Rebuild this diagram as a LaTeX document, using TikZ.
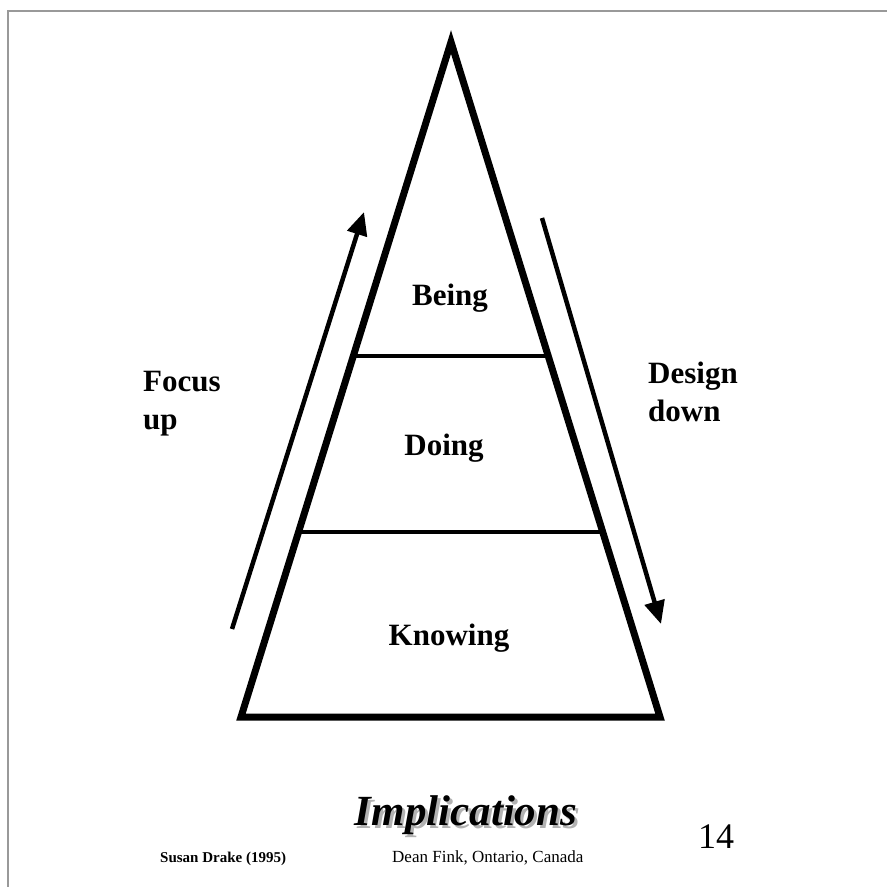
\documentclass[tikz,border=0pt]{standalone}
\usepackage{fontspec}
\setmainfont{Liberation Serif}
\usetikzlibrary{calc,arrows.meta}

\begin{document}
\begin{tikzpicture}[x=1pt,y=-1pt,
  level/.style={font=\bfseries\fontsize{31}{37}\selectfont, anchor=base},
  side/.style={font=\bfseries\fontsize{31}{38}\selectfont, align=left, anchor=north west, inner sep=0pt},
  flow/.style={line width=4.5pt, -{Triangle[length=23pt,width=20pt]}}]
\useasboundingbox (0,0) rectangle (887,887);
\draw [line width=2.5pt, color=black!40] (8,887)--(8,11)--(887,11);
% pyramid
\coordinate (top) at (451,42);
\coordinate (bl) at (241,717);
\coordinate (br) at (660,717);
\draw [line width=7pt, miter limit=20] (top)--(bl)--(br)--cycle;
\foreach \t in {0.465,0.726}
{       \draw [line width=4.5pt] ($(top)!\t!(bl)$)--($(top)!\t!(br)$);
}
\node[level] (being) at (450,305) {Being};
\node[level] (doing) at (444,455) {Doing};
\node[level] (knowing) at (449,645) {Knowing};
% arrows
\coordinate (upstart) at (232,629);
\coordinate (upend) at (364,212);
\coordinate (downstart) at (542,218);
\coordinate (downend) at (661,624);
\draw [flow] (upstart)--(upend);
\draw [flow] (downstart)--(downend);
\node[side] (focus) at (143,371) {Focus\\up};
\node[side] (design) at (648,362) {Design\\down};
% footer
\node[anchor=base, font=\bfseries\itshape\fontsize{43}{43}\selectfont] (title) at (466,825)
  {\rlap{\kern3pt\raisebox{-3pt}{\color{black!30}Implications}}Implications};
\node[anchor=base, font=\fontsize{36}{36}\selectfont] (page) at (716,848) {14};
\node[anchor=base west, inner sep=0pt, font=\bfseries\fontsize{15}{15}\selectfont] (source) at (160,862) {Susan Drake (1995)};
\node[anchor=base west, inner sep=0pt, font=\fontsize{17}{17}\selectfont] (credit) at (392,862) {Dean Fink, Ontario, Canada};
\end{tikzpicture}
\end{document}
